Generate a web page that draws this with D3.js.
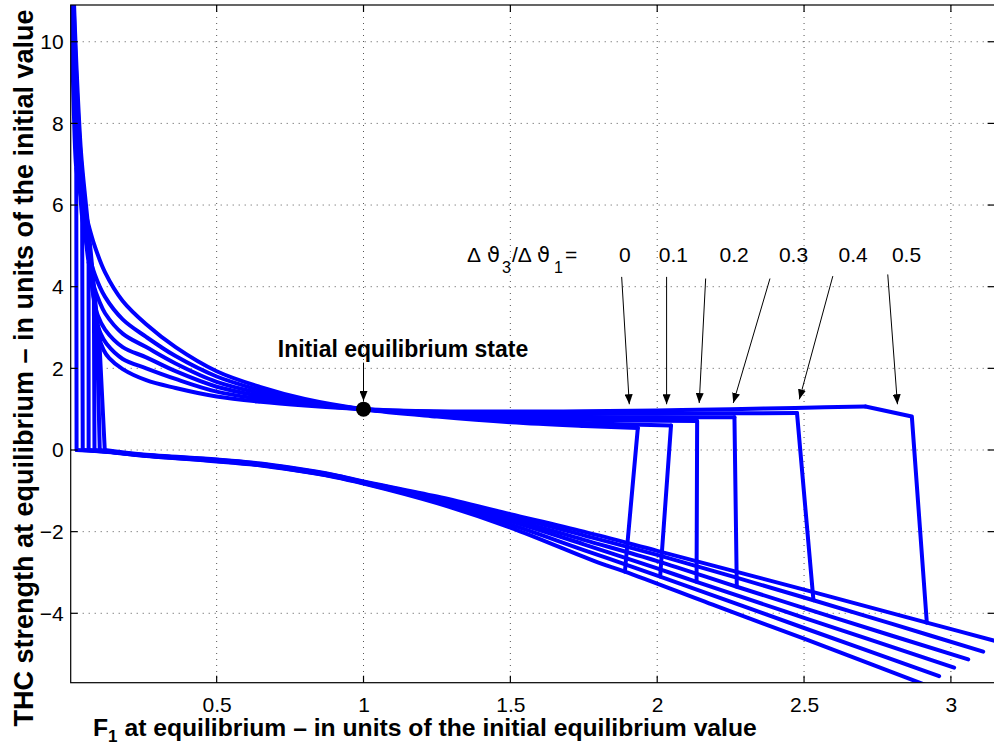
<!DOCTYPE html>
<html>
<head>
<meta charset="utf-8">
<script src="https://cdn.jsdelivr.net/npm/d3@7/dist/d3.min.js"></script>
<style>
  html, body { margin: 0; padding: 0; background: #fff; }
  svg { display: block; }
  text { font-family: "Liberation Sans", Arial, Helvetica, sans-serif; fill: #000; }
</style>
</head>
<body>
<svg id="chart" width="994" height="748"></svg>
<script>
// Equilibrium THC strength versus F1, one curve per temperature-ratio setting.
const ratioLabels = ["0", "0.1", "0.2", "0.3", "0.4", "0.5"];

// Steep left part of each upper branch, from above the plot down to the junction
const steepTop = [
  [[0.003, 11.6], [0.008, 9.8], [0.014, 8.2]],
  [[0.005, 11.6], [0.012, 9.6], [0.022, 8.0], [0.032, 6.8]],
  [[0.007, 11.6], [0.015, 9.5], [0.027, 7.8], [0.042, 6.3], [0.054, 5.2]],
  [[0.008, 11.6], [0.018, 9.5], [0.031, 7.6], [0.046, 6.2], [0.062, 4.9], [0.074, 4.1]],
  [[0.010, 11.6], [0.020, 9.5], [0.034, 7.5], [0.050, 6.1], [0.066, 4.8], [0.080, 3.8]],
  [[0.011, 11.6], [0.022, 9.5], [0.038, 7.3], [0.055, 6.0], [0.072, 4.8], [0.086, 3.7]]
];

// Junction where the near-vertical segment from q = 0 meets the upper branch
const junction = [[0.022, 6.9], [0.042, 5.7], [0.064, 4.6], [0.082, 3.7], [0.091, 3.2], [0.100, 2.75]];

// Upper (positive) branch, from the junction to the fold
const upperBranch = [
  [[0.035, 6.3], [0.055, 5.75], [0.08, 5.1], [0.12, 4.35], [0.18, 3.65], [0.26, 3.08], [0.36, 2.52],
   [0.5, 1.93], [0.65, 1.54], [0.8, 1.25], [1, 1], [1.25, 0.82], [1.5, 0.68], [1.75, 0.59], [1.934, 0.54]],
  [[0.06, 4.95], [0.085, 4.3], [0.12, 3.75], [0.18, 3.2], [0.26, 2.77], [0.36, 2.3], [0.5, 1.8],
   [0.65, 1.46], [0.8, 1.21], [1, 1], [1.25, 0.86], [1.5, 0.74], [1.75, 0.66], [2.047, 0.6]],
  [[0.08, 4.05], [0.1, 3.65], [0.12, 3.35], [0.18, 2.85], [0.26, 2.52], [0.36, 2.12], [0.5, 1.67],
   [0.65, 1.39], [0.8, 1.18], [1, 1], [1.25, 0.89], [1.5, 0.8], [1.75, 0.74], [2.136, 0.71]],
  [[0.095, 3.3], [0.12, 2.95], [0.18, 2.52], [0.26, 2.27], [0.36, 1.93], [0.5, 1.55], [0.65, 1.32],
   [0.8, 1.15], [1, 1], [1.25, 0.91], [1.5, 0.85], [1.75, 0.81], [2.0, 0.8], [2.263, 0.8]],
  [[0.105, 2.85], [0.125, 2.6], [0.18, 2.23], [0.26, 2.0], [0.36, 1.74], [0.5, 1.43], [0.65, 1.25],
   [0.8, 1.12], [1, 1], [1.25, 0.93], [1.5, 0.89], [1.75, 0.88], [2.0, 0.89], [2.25, 0.9], [2.476, 0.905]],
  [[0.115, 2.45], [0.134, 2.25], [0.18, 1.98], [0.26, 1.71], [0.36, 1.52], [0.5, 1.31], [0.65, 1.18],
   [0.8, 1.09], [1, 1], [1.25, 0.95], [1.5, 0.94], [1.75, 0.95], [2.0, 0.97], [2.25, 1.0], [2.47, 1.03],
   [2.709, 1.065]]
];

// Beyond the fold: collapse onto the lower branch
const foldDrop = [
  [[1.89, -2.98]],
  [[2.01, -3.1]],
  [[2.134, -3.23]],
  [[2.271, -3.35]],
  [[2.532, -3.68]],
  [[2.867, 0.82], [2.918, -4.23]]
];

// Lower (negative) branch, from q = 0 out to large F1
const lowerBranch = [
  [[0.023, 0], [0.13, -0.05], [0.25, -0.14], [0.5, -0.28], [0.65, -0.38], [0.75, -0.48], [0.9, -0.66],
   [1.0, -0.82], [1.25, -1.3], [1.5, -1.9], [1.8, -2.76], [1.89, -2.98], [2.2, -3.82], [2.5, -4.62],
   [2.93, -5.8]],
  [[0.044, 0], [0.13, -0.045], [0.25, -0.135], [0.5, -0.27], [0.65, -0.37], [0.75, -0.47], [0.9, -0.65],
   [1.0, -0.81], [1.25, -1.27], [1.5, -1.82], [1.75, -2.45], [2.01, -3.1], [2.5, -4.36], [2.96, -5.54]],
  [[0.064, 0], [0.13, -0.04], [0.25, -0.13], [0.5, -0.26], [0.65, -0.36], [0.75, -0.46], [0.9, -0.64],
   [1.0, -0.8], [1.25, -1.23], [1.5, -1.74], [1.75, -2.31], [2.0, -2.9], [2.134, -3.23], [2.5, -4.11],
   [3.011, -5.33]],
  [[0.084, 0], [0.13, -0.035], [0.25, -0.125], [0.5, -0.25], [0.65, -0.35], [0.75, -0.45], [0.9, -0.63],
   [1.0, -0.79], [1.25, -1.2], [1.5, -1.68], [1.75, -2.2], [2.0, -2.72], [2.271, -3.35], [2.6, -4.1],
   [3.059, -5.13]],
  [[0.102, 0], [0.13, -0.03], [0.25, -0.12], [0.5, -0.24], [0.65, -0.34], [0.75, -0.44], [0.9, -0.62],
   [1.0, -0.78], [1.25, -1.17], [1.5, -1.62], [1.75, -2.09], [2.0, -2.57], [2.532, -3.68], [2.8, -4.26],
   [3.11, -4.94]],
  [[0.119, 0], [0.25, -0.11], [0.5, -0.23], [0.65, -0.33], [0.75, -0.43], [0.9, -0.61], [1.0, -0.77],
   [1.25, -1.14], [1.5, -1.57], [1.75, -2.0], [2.0, -2.47], [2.5, -3.42], [2.918, -4.23], [3.2, -4.77]]
];

// Axis ticks
const xTicks = [0.5, 1, 1.5, 2, 2.5, 3];
const yTicks = [-4, -2, 0, 2, 4, 6, 8, 10];

// Annotation: ratio labels and arrows pointing at the fold points
const annoLabelX = [1.890, 2.055, 2.262, 2.464, 2.667, 2.849];
const annoLabelY = 4.60;
const arrowFrom = [[1.879, 4.24], [2.032, 4.24], [2.165, 4.20], [2.384, 4.20], [2.598, 4.26], [2.785, 4.30]];
const arrowTo = [[1.905, 1.12], [2.032, 1.12], [2.143, 1.15], [2.259, 1.15], [2.484, 1.24], [2.818, 1.12]];

// Initial equilibrium point
const initialState = [1, 1];
const initialArrow = [[1, 2.14], [1, 1.20]];
const initialLabelPos = [0.708, 2.27];

const svg = d3.select("#chart");
const plotL = 70.7, plotT = 5, plotR = 994.6, plotB = 682.7;

const x = d3.scaleLinear().domain([0.003, 3.1488]).range([plotL, plotR]);
const y = d3.scaleLinear().domain([-5.7, 10.9]).range([plotB, plotT]);

const defs = svg.append("defs");
defs.append("clipPath").attr("id", "plotArea")
  .append("rect").attr("x", plotL).attr("y", plotT)
  .attr("width", plotR - plotL).attr("height", plotB - plotT);

defs.append("marker")
  .attr("id", "arrowHead").attr("viewBox", "0 0 10 8")
  .attr("refX", 10).attr("refY", 4)
  .attr("markerWidth", 10).attr("markerHeight", 8)
  .attr("markerUnits", "userSpaceOnUse").attr("orient", "auto")
  .append("path").attr("d", "M0,0 L10,4 L0,8 Z").attr("fill", "#000");

// Dotted grid
const grid = svg.append("g").attr("stroke", "#555").attr("stroke-width", 1)
  .attr("stroke-dasharray", "1,5");
grid.selectAll("line.gx").data(xTicks).join("line").attr("class", "gx")
  .attr("x1", d => x(d)).attr("x2", d => x(d)).attr("y1", plotT).attr("y2", plotB);
grid.selectAll("line.gy").data(yTicks).join("line").attr("class", "gy")
  .attr("y1", d => y(d)).attr("y2", d => y(d)).attr("x1", plotL).attr("x2", plotR);

// Curves: smooth branches, straight jumps between them
const smooth = d3.line().x(d => x(d[0])).y(d => y(d[1])).curve(d3.curveCatmullRom.alpha(0.5));
const straight = d3.line().x(d => x(d[0])).y(d => y(d[1]));
const curves = svg.append("g").attr("clip-path", "url(#plotArea)")
  .attr("fill", "none").attr("stroke", "#0000ff").attr("stroke-width", 4)
  .attr("stroke-linejoin", "round").attr("stroke-linecap", "round");

ratioLabels.forEach((r, i) => {
  const upper = steepTop[i].concat([junction[i]], upperBranch[i]);
  const foldPt = upperBranch[i][upperBranch[i].length - 1];
  curves.append("path").attr("d", smooth(upper));
  curves.append("path").attr("d", straight([foldPt].concat(foldDrop[i])));
  curves.append("path").attr("d", straight([junction[i], lowerBranch[i][0]]));
  curves.append("path").attr("d", smooth(lowerBranch[i]));
});

// Axes box and ticks
svg.append("rect").attr("x", plotL).attr("y", plotT)
  .attr("width", plotR - plotL).attr("height", plotB - plotT)
  .attr("fill", "none").attr("stroke", "#000").attr("stroke-width", 1.2);

const xAxis = d3.axisBottom(x).tickValues(xTicks).tickSize(0).tickPadding(14)
  .tickFormat(d3.format("~g"));
const yAxis = d3.axisLeft(y).tickValues(yTicks).tickSize(0).tickPadding(7)
  .tickFormat(d => d < 0 ? "\u2212" + Math.abs(d) : String(d));

const gx = svg.append("g").attr("transform", `translate(0,${plotB})`).call(xAxis);
const gy = svg.append("g").attr("transform", `translate(${plotL},0)`).call(yAxis);
[gx, gy].forEach(g => {
  g.select(".domain").remove();
  g.selectAll("text").attr("font-size", 21)
    .attr("font-family", "Liberation Sans, Arial, sans-serif").attr("fill", "#000");
});

const tickLen = 7;
const ticks = svg.append("g").attr("stroke", "#000").attr("stroke-width", 1.2);
xTicks.forEach(t => {
  ticks.append("line").attr("x1", x(t)).attr("x2", x(t)).attr("y1", plotB).attr("y2", plotB - tickLen);
  ticks.append("line").attr("x1", x(t)).attr("x2", x(t)).attr("y1", plotT).attr("y2", plotT + tickLen);
});
yTicks.forEach(t => {
  ticks.append("line").attr("y1", y(t)).attr("y2", y(t)).attr("x1", plotL).attr("x2", plotL + tickLen);
  ticks.append("line").attr("y1", y(t)).attr("y2", y(t)).attr("x1", plotR).attr("x2", plotR - tickLen);
});

// Initial equilibrium state
svg.append("circle").attr("cx", x(initialState[0])).attr("cy", y(initialState[1]))
  .attr("r", 7.5).attr("fill", "#000");
svg.append("line")
  .attr("x1", x(initialArrow[0][0])).attr("y1", y(initialArrow[0][1]))
  .attr("x2", x(initialArrow[1][0])).attr("y2", y(initialArrow[1][1]))
  .attr("stroke", "#000").attr("stroke-width", 1).attr("marker-end", "url(#arrowHead)");
svg.append("text").attr("x", x(initialLabelPos[0])).attr("y", y(initialLabelPos[1]))
  .attr("font-size", 23).attr("font-weight", "bold")
  .text("Initial equilibrium state");

// Ratio annotation header: Δϑ3/Δϑ1=
const anno = svg.append("g");
const hy = y(annoLabelY);
const head = anno.append("text").attr("y", hy).attr("font-size", 21);
head.append("tspan").attr("x", 467).text("\u0394");
head.append("tspan").attr("x", 487).attr("font-family", "DejaVu Sans, sans-serif").text("\u03d1");
head.append("tspan").attr("x", 502).attr("y", hy + 11).attr("font-size", 16).text("3");
head.append("tspan").attr("x", 512).attr("y", hy).text("/\u0394");
head.append("tspan").attr("x", 537).attr("font-family", "DejaVu Sans, sans-serif").text("\u03d1");
head.append("tspan").attr("x", 554).attr("y", hy + 11).attr("font-size", 16).text("1");
head.append("tspan").attr("x", 565).attr("y", hy).text("=");

ratioLabels.forEach((r, i) => {
  anno.append("text").attr("x", x(annoLabelX[i])).attr("y", hy)
    .attr("text-anchor", "middle").attr("font-size", 21).text(r);
  anno.append("line")
    .attr("x1", x(arrowFrom[i][0])).attr("y1", y(arrowFrom[i][1]))
    .attr("x2", x(arrowTo[i][0])).attr("y2", y(arrowTo[i][1]))
    .attr("stroke", "#000").attr("stroke-width", 1).attr("marker-end", "url(#arrowHead)");
});

// Axis labels
const xl = svg.append("text").attr("x", 93).attr("y", 736).attr("font-size", 24.7).attr("font-weight", "bold");
xl.append("tspan").text("F");
xl.append("tspan").attr("font-size", 17).attr("dy", 6).text("1");
xl.append("tspan").attr("dy", -6).text(" at equilibrium \u2013 in units of the initial equilibrium value");

svg.append("text").attr("transform", "translate(33,368) rotate(-90)")
  .attr("text-anchor", "middle").attr("font-size", 27).attr("font-weight", "bold")
  .text("THC strength at equilibrium \u2013 in units of the initial value");
</script>
</body>
</html>
